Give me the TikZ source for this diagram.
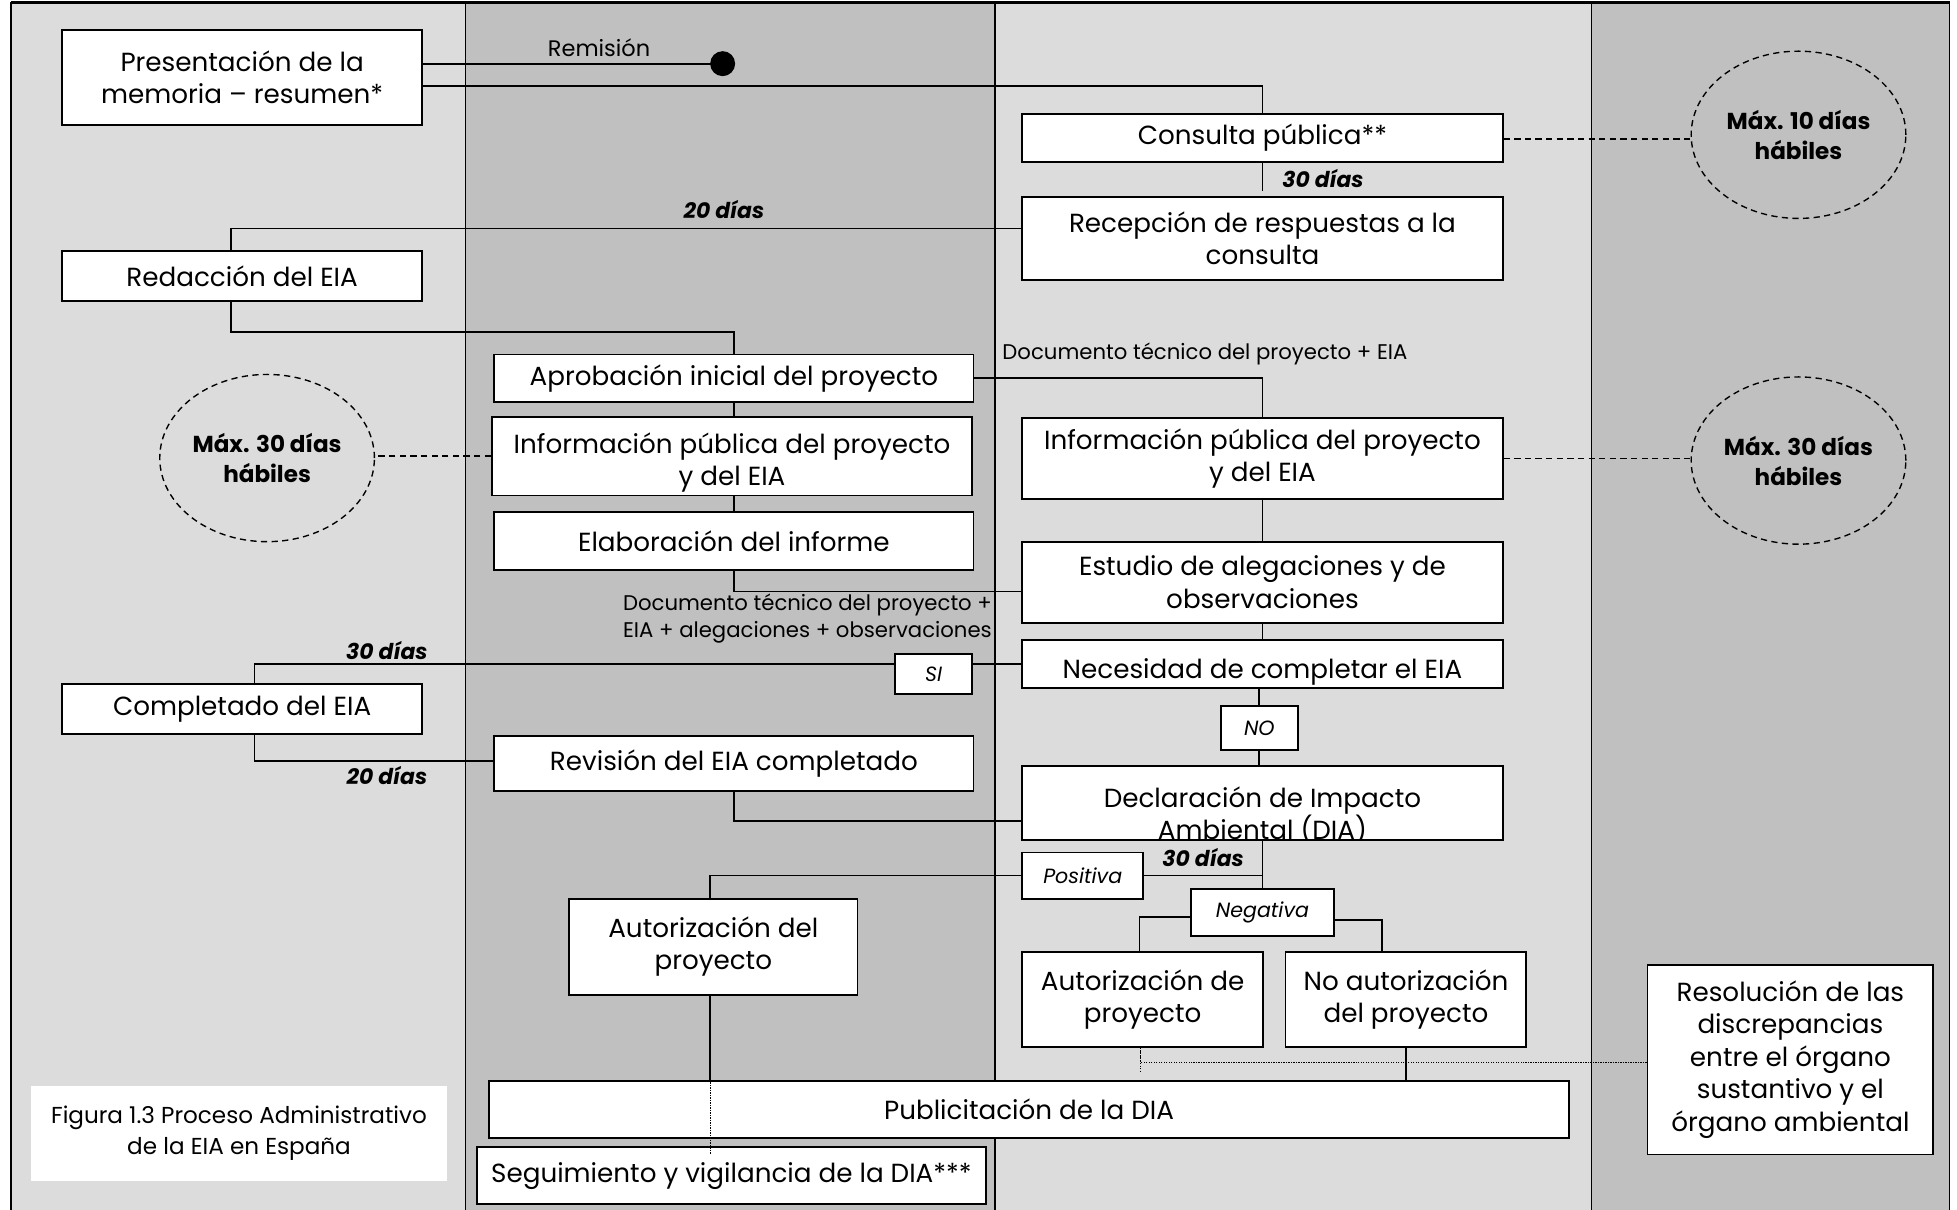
\documentclass[tikz,border=0pt]{standalone}
\usepackage{fontspec}
\setmainfont{Poppins}
\usetikzlibrary{shapes.geometric,calc}
\definecolor{laneL}{gray}{0.863}
\definecolor{laneD}{gray}{0.753}
\newcommand\msz{\fontsize{21}{26}\selectfont}
\begin{document}
\begin{tikzpicture}[x=1pt,y=-1pt,
  box/.style={draw, fill=white, line width=1.5pt, inner sep=0pt, align=center, font=\msz},
  lbl/.style={font=\fontsize{17.5}{20}\selectfont\bfseries\itshape, inner sep=0pt},
  small/.style={font=\fontsize{17}{21}\selectfont, inner sep=0pt, align=left},
  tagbox/.style={box, font=\fontsize{16.5}{18}\selectfont\itshape},
  ell/.style={ellipse, draw, dash pattern=on 5pt off 3.5pt, line width=1.1pt, minimum width=172, minimum height=134, align=center, font=\fontsize{18.5}{24}\selectfont\bfseries, inner sep=0pt},
  conn/.style={line width=1.4pt},
  dconn/.style={dash pattern=on 5pt off 3.5pt, line width=1.1pt},
  dotconn/.style={densely dotted, line width=1pt},
  lane/.style={line width=1.3pt}]
\useasboundingbox (0,0) rectangle (1568,969);
\fill[white] (0,0) rectangle (1568,969);
% lanes
\filldraw[lane, fill=laneL] (9,2) rectangle (373,980);
\filldraw[lane, fill=laneD] (373,2) rectangle (797,980);
\filldraw[lane, fill=laneL] (797,2) rectangle (1275,980);
\filldraw[lane, fill=laneD] (1275,2) rectangle (1562,980);
\draw[line width=2pt] (9,2) -- (1562,2);

% boxes
\node[box, minimum width=288, minimum height=76] (pres) at (194,62) {Presentación de la\\memoria – resumen*};
\node[box, minimum width=288, minimum height=40] (red) at (194,221) {Redacción del EIA};
\node[box, minimum width=385, minimum height=39] (cons) at (1011.5,110.5) {Consulta pública**};
\node[box, minimum width=385, minimum height=66] (recep) at (1011.5,191) {Recepción de respuestas a la\\consulta};
\node[box, minimum width=384, minimum height=38] (aprob) at (588,303) {Aprobación inicial del proyecto};
\node[box, minimum width=385, minimum height=63,
  path picture={\node[draw=none, fill=none, align=center, font=\msz] at ([yshift=-5pt]path picture bounding box.center) {Información pública del proyecto\\y del EIA};}] (infoL) at (586.5,365.5) {};
\node[box, minimum width=384, minimum height=47] (elab) at (588,433.5) {Elaboración del informe};
\node[box, minimum width=385, minimum height=65] (infoR) at (1011.5,367.5) {Información pública del proyecto\\y del EIA};
\node[box, minimum width=385, minimum height=65] (estud) at (1011.5,466.5) {Estudio de alegaciones y de\\observaciones};
\node[box, minimum width=385, minimum height=38,
  path picture={\node[draw=none, fill=none, font=\msz] at ([yshift=-6pt]path picture bounding box.center) {Necesidad de completar el EIA};}] (neces) at (1011.5,532) {};
\node[tagbox, minimum width=62, minimum height=32] (si) at (748,540) {SI};
\node[box, minimum width=288, minimum height=40] (compl) at (194,568) {Completado del EIA};
\node[tagbox, minimum width=62, minimum height=35] (no) at (1009,583.5) {NO};
\node[box, minimum width=384, minimum height=44] (revis) at (588,612) {Revisión del EIA completado};
\node[box, minimum width=385, minimum height=59,
  path picture={\node[draw=none, fill=none, align=center, font=\msz] at ([yshift=-10pt]path picture bounding box.center) {Declaración de Impacto\\Ambiental (DIA)};}] (decl) at (1011.5,643.5) {};
\node[tagbox, minimum width=97, minimum height=37] (posit) at (867.5,701.5) {Positiva};
\node[tagbox, minimum width=115, minimum height=38] (negat) at (1011.5,731) {Negativa};
\node[box, minimum width=231, minimum height=77] (autP) at (571.5,758.5) {Autorización del\\proyecto};
\node[box, minimum width=193, minimum height=76] (autD) at (915.5,801) {Autorización de\\proyecto};
\node[box, minimum width=193, minimum height=76] (noaut) at (1126.5,801) {No autorización\\del proyecto};
\node[box, minimum width=229, minimum height=152] (resol) at (1434.5,849) {Resolución de las\\discrepancias\\entre el órgano\\sustantivo y el\\órgano ambiental};
\node[box, minimum width=865, minimum height=46] (publ) at (824.5,889) {Publicitación de la DIA};
\node[box, minimum width=408, minimum height=46] (segu) at (586,942) {Seguimiento y vigilancia de la DIA***};
\node[fill=white, minimum width=333, minimum height=76, inner sep=0pt, align=center, font=\fontsize{18.5}{25}\selectfont] (capt) at (191.5,908) {Figura 1.3 Proceso Administrativo\\de la EIA en España};

% ellipses
\node[ell] (c10) at (1441,108) {Máx. 10 días\\hábiles};
\node[ell] (c30L) at (214,367) {Máx. 30 días\\hábiles};
\node[ell] (c30R) at (1441,369) {Máx. 30 días\\hábiles};
\draw[dconn] ([yshift=-1pt]cons.east) -- ([yshift=-1pt]cons.east -| c10.west);
\draw[dconn] (infoL.west) -- (infoL.west -| c30L.east);
\draw[dconn] (infoR.east) -- (infoR.east -| c30R.west);

% connectors
\node[circle, fill=black, inner sep=0pt, minimum size=20] (dot) at (579,51) {};
\draw[conn] ([yshift=11pt]pres.east) -- (dot.center);
\node[font=\fontsize{18}{20}\selectfont, inner sep=0pt] (remis) at (480,38) {Remisión};
\draw[conn] ([yshift=-7pt]pres.east) -| (cons.north);
\draw[conn] (cons.south) -- ++(0,22) coordinate (consend);
\node[lbl] (l30a) at (1060,143) {30 días};
\draw[conn] ([yshift=8pt]recep.west) -| ([xshift=-9pt]red.north);
\node[lbl] (l20a) at (580,168) {20 días};
\draw[conn] ([xshift=-9pt]red.south) -- ++(0,24) -| (aprob.north);
\draw[conn] (aprob.east) -| (infoR.north);
\node[small, anchor=west] (doc1) at (803,284) {Documento técnico del proyecto + EIA};
\draw[conn] (aprob.south) -- (infoL.north -| aprob.south);
\draw[conn] (infoL.south -| elab.north) -- (elab.north);
\draw[conn] (elab.south) |- ([yshift=-7.5pt]estud.west);
\node[small, anchor=north west] (doc2) at (499,476) {Documento técnico del proyecto +\\EIA + alegaciones + observaciones};
\draw[conn] (infoR.south) -- (estud.north);
\draw[conn] (estud.south) -- (neces.north);
\draw[conn] (neces.west) -- (neces.west -| si.east);
\draw[conn] (si.west |- neces.west) -| ([xshift=10pt]compl.north);
\node[lbl] (l30b) at (310,521) {30 días};
\draw[conn] (neces.south -| no.north) -- (no.north);
\draw[conn] (no.south) -- (decl.north -| no.south);
\draw[conn] ([xshift=10pt]compl.south) |- ([yshift=2pt]revis.west);
\node[lbl] (l20b) at (310,621) {20 días};
\draw[conn] (revis.south) |- ([yshift=-14.5pt]decl.west);
\draw[conn] (decl.south) |- (posit.east);
\node[lbl] (l30c) at (964,687) {30 días};
\draw[conn] (decl.south) -- (negat.north);
\draw[conn] (posit.west) -| ([xshift=-2.5pt]autP.north);
\draw[conn] ([yshift=-4pt]negat.west) -| ([xshift=-2.5pt]autD.north);
\draw[conn] ([yshift=-6pt]negat.east) -| ([xshift=-19.5pt]noaut.north);
\draw[conn] ([xshift=-2.5pt]autP.south) -- ([xshift=-2.5pt]autP.south |- publ.north) coordinate (pubtop);
\draw[dotconn] (pubtop) -- ++(0,59);
\draw[conn] (noaut.south) -- (noaut.south |- publ.north);
\draw[dotconn] ([yshift=-2pt]resol.west) -| ([xshift=-1.5pt]autD.south);
\draw[dotconn] ([xshift=-1.5pt]autD.south) -- ++(0,19);
\end{tikzpicture}
\end{document}
